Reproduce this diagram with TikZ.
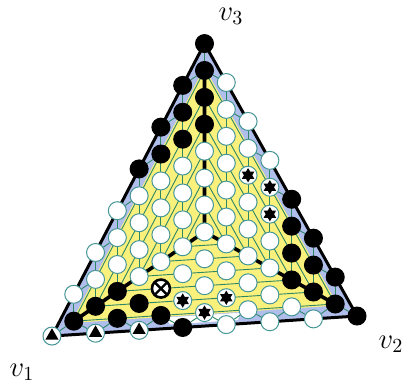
\documentclass[tikz,border=0pt]{standalone}
\usetikzlibrary{calc}
\definecolor{bandblue}{RGB}{176,190,236}
\definecolor{cellyel}{RGB}{250,241,125}
\definecolor{cellgrn}{RGB}{45,135,100}
\definecolor{rimteal}{RGB}{70,150,150}
\pgfdeclarelayer{back}\pgfdeclarelayer{mid}\pgfsetlayers{back,mid,main}
% lattice point (i,m) -> node n<i>x<m>
\newcommand{\pnt}[3]{\node[#1] (n#2x#3) at ({204.5+21.79*(#2)},{70.5+13.45*(#3)-1.43*(#2)}) {};}

\begin{document}
\begin{tikzpicture}[x=0.5pt,y=-0.5pt,
 wn/.style={circle,inner sep=0,minimum size=9pt,fill=white,draw=rimteal,line width=0.5pt},
 bn/.style={wn,fill=black,draw=black},
 tn/.style={wn,path picture={\fill[black,shift={(path picture bounding box.center)}] (0,3.9pt)--(-3.3pt,-1.8pt)--(3.3pt,-1.8pt)--cycle;}},
 sn/.style={wn,path picture={\fill[black,shift={(path picture bounding box.center)}] (90:3.6pt)--(210:3.6pt)--(330:3.6pt)--cycle (270:3.6pt)--(30:3.6pt)--(150:3.6pt)--cycle;}},
 xn/.style={wn,draw=black,line width=1.3pt,path picture={\draw[black,line width=1.2pt,shift={(path picture bounding box.center)}] (45:5pt)--(225:5pt) (135:5pt)--(315:5pt);}},
 cell/.style={draw=cellgrn,line width=0.45pt},
 med/.style={line width=1.8pt,black},
 rim/.style={line width=1.5pt,black,line join=round},
 lab/.style={inner sep=0,font=\Large}]
 \useasboundingbox (0,0) rectangle (404,389);
 % outer ring
 \foreach \i/\m in {0/-2,-1/1,-2/4,-3/7,4/10,5/13,6/16,7/19,-1/19} {\pnt{bn}{\i}{\m}}
 \foreach \i/\m in {1/1,2/4,3/7,-4/10,-5/13,-6/16,1/19,3/19,5/19} {\pnt{wn}{\i}{\m}}
 \foreach \i in {-7,-5,-3} {\pnt{tn}{\i}{19}}
 % inner points
 \foreach \i/\m in {0/0,0/2,0/4,-1/3,-1/5,-2/6,-2/18,-3/17,-4/16,-4/18,-5/17,-6/18,4/12,4/14,4/16,5/15,5/17,6/18} {\pnt{bn}{\i}{\m}}
 \foreach \i/\ms in {0/{6,8,10,12,14,16},-1/{7,9,11,13,15},1/{3,5,7,9,11,13,15},-2/{8,10,12,14},2/{6,10,12,14,16,18},-3/{9,11,13,15},3/{13,15,17},-4/{12,14},4/{18},-5/{15}} {\foreach \m in \ms {\pnt{wn}{\i}{\m}}}
 \foreach \i/\m in {0/18,-1/17,1/17,2/8,3/9,3/11} {\pnt{sn}{\i}{\m}}
 \pnt{xn}{-2}{16}
 \node[lab] (v3) at (231,16) {$v_3$};
 \node[lab] (v2) at (391,344) {$v_2$};
 \node[lab] (v1) at (22,372) {$v_1$};
 \begin{pgfonlayer}{mid}
  \coordinate (cc) at (n0x12.center);
  \coordinate (y3) at ($(cc)!1.02!(n0x0.center)$);
  \coordinate (y1) at ($(cc)!1.02!(n-6x18.center)$);
  \coordinate (y2) at ($(cc)!1.02!(n6x18.center)$);
  % cells
  \begin{scope}
   \clip (y3) -- (cc) -- (y1) -- cycle;
   \foreach \i in {-6,...,0} \draw[cell] ({204.5+21.79*\i},0) -- ++(0,400);
   \foreach \s in {0,...,9} \draw[cell] (204.5,{70.5+26.9*\s}) ++(87.16,-167.12) -- ++(-261.48,501.36);
  \end{scope}
  \begin{scope}
   \clip (y3) -- (y2) -- (cc) -- cycle;
   \foreach \i in {0,...,6} \draw[cell] ({204.5+21.79*\i},0) -- ++(0,400);
   \foreach \s in {0,...,9} \draw[cell] (204.5,{70.5+26.9*\s}) ++(-87.16,-155.68) -- ++(261.48,467.04);
  \end{scope}
  \begin{scope}
   \clip (y1) -- (cc) -- (y2) -- cycle;
   \foreach \m in {11,...,19} \draw[cell] (204.5,{70.5+13.45*\m}) ++(-174.32,11.44) -- ++(348.64,-22.88);
  \end{scope}
  \foreach \a/\b in {0x0/0x-2,0x0/-1x1,-1x3/-1x1,-1x3/-2x4,-2x6/-2x4,-2x6/-3x7,-3x9/-3x7,-3x9/-4x10,-4x12/-4x10,-4x12/-5x13,-5x15/-5x13,-5x15/-6x16,-6x18/-6x16,-6x18/-7x19,
    0x0/1x1,1x3/1x1,1x3/2x4,2x6/2x4,2x6/3x7,3x9/3x7,3x9/4x10,4x12/4x10,4x12/5x13,5x15/5x13,5x15/6x16,6x18/6x16,6x18/7x19,
    -6x18/-5x19,-4x18/-5x19,-4x18/-3x19,-2x18/-3x19,-2x18/-1x19,0x18/-1x19,0x18/1x19,2x18/1x19,2x18/3x19,4x18/3x19,4x18/5x19,6x18/5x19}
   \draw[cell] (n\a) -- (n\b);
  \draw[med] (n0x0.center) -- (cc) (cc) -- (n-6x18.center) (cc) -- (n6x18.center);
  \draw[rim] (n0x-2.center) -- (n-7x19.center) -- (n7x19.center) -- cycle;
 \end{pgfonlayer}
 \begin{pgfonlayer}{back}
  \fill[bandblue] (n0x-2.center) -- (n-7x19.center) -- (n7x19.center) -- cycle;
  \fill[cellyel] (y3) -- (y1) -- (y2) -- cycle;
  % bare strip along the bottom
  \fill[white] (166,317.5) -- (240,312.8) -- (238,320) -- (170,324.5) -- cycle;
 \end{pgfonlayer}
\end{tikzpicture}
\end{document}
